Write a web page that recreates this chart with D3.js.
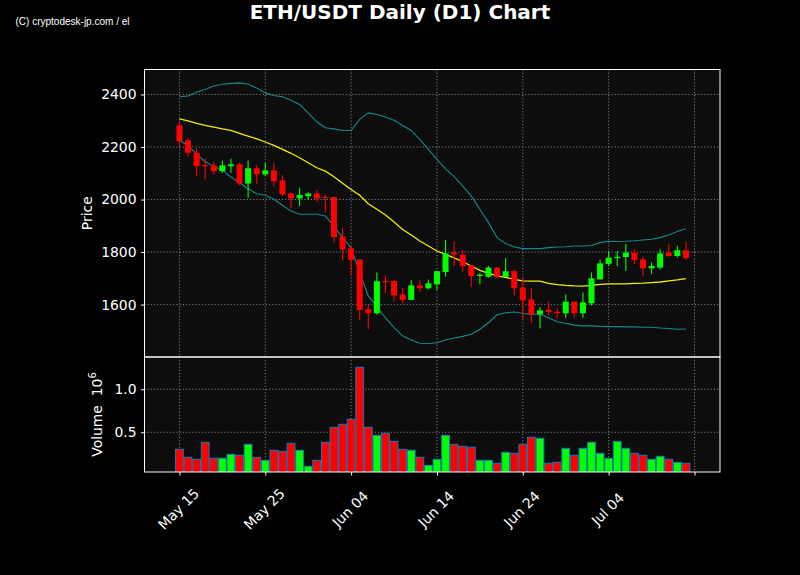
<!DOCTYPE html>
<html><head><meta charset="utf-8">
<script src="https://cdn.jsdelivr.net/npm/d3@7"></script>
<style>body{margin:0;background:#000;overflow:hidden}</style>
</head><body>
<svg id="c" width="800" height="575"></svg>
<script>
// ---------- DATA ----------
const startDate = [2023, 4, 15]; // May 15
const open  = [2282,2225,2178,2131,2130,2108,2127,2134,2061,2119,2096,2111,2073,2023,2004,2013,2023,2010,2009,1859,1814,1772,1582,1567,1690,1689,1639,1618,1673,1662,1677,1724,1798,1790,1750,1709,1706,1741,1706,1727,1665,1620,1563,1580,1573,1567,1611,1567,1605,1696,1755,1777,1781,1798,1772,1738,1741,1798,1785,1807];
const high  = [2298,2233,2195,2155,2144,2149,2155,2140,2149,2131,2140,2138,2092,2028,2045,2028,2036,2017,2010,1893,1823,1772,1601,1722,1713,1696,1665,1694,1692,1696,1727,1846,1840,1808,1750,1719,1747,1741,1776,1734,1700,1661,1591,1611,1587,1638,1611,1646,1722,1771,1804,1804,1832,1813,1782,1760,1811,1829,1824,1840];
const low   = [2203,2163,2089,2077,2094,2102,2102,2055,2007,2060,2089,2051,2013,1965,1975,2000,1992,1952,1836,1766,1713,1542,1506,1561,1643,1611,1605,1618,1649,1658,1656,1706,1747,1725,1668,1677,1703,1699,1706,1635,1547,1531,1509,1559,1548,1550,1550,1550,1597,1696,1747,1747,1728,1753,1709,1717,1734,1782,1779,1770];
const close = [2222,2178,2127,2127,2108,2130,2134,2061,2119,2096,2111,2070,2020,2004,2017,2023,2004,2006,1857,1810,1770,1580,1567,1689,1686,1635,1618,1673,1662,1681,1727,1795,1790,1747,1709,1714,1741,1706,1727,1662,1616,1563,1578,1572,1567,1611,1567,1608,1700,1757,1779,1782,1798,1770,1738,1747,1795,1785,1807,1777];
const volume = [302000,209000,186000,384000,198000,198000,244000,233000,360000,209000,174000,291000,279000,372000,291000,105000,174000,384000,558000,593000,651000,1256000,558000,465000,488000,395000,302000,291000,209000,116000,186000,465000,360000,337000,326000,174000,174000,140000,267000,256000,360000,442000,430000,140000,151000,314000,233000,314000,384000,256000,198000,395000,314000,256000,233000,186000,221000,186000,151000,140000];
const sma   = [2307,2299,2290,2282,2276,2269,2263,2252,2241,2231,2219,2206,2191,2176,2159,2140,2121,2108,2087,2062,2038,2016,1984,1963,1941,1914,1886,1865,1842,1823,1804,1791,1778,1763,1747,1730,1719,1709,1704,1696,1690,1689,1689,1681,1676,1673,1671,1670,1673,1677,1679,1679,1679,1681,1682,1684,1686,1690,1694,1699];
const upper = [2391,2394,2409,2419,2432,2439,2442,2444,2439,2425,2406,2396,2391,2378,2362,2330,2296,2273,2269,2263,2263,2305,2330,2324,2314,2302,2282,2263,2229,2191,2153,2117,2087,2051,2013,1963,1912,1855,1833,1819,1813,1813,1813,1817,1819,1820,1823,1823,1825,1836,1841,1840,1841,1843,1846,1849,1855,1865,1878,1889];
const lower = [2225,2206,2172,2144,2127,2112,2086,2064,2041,2022,2016,2001,1978,1956,1944,1944,1944,1937,1899,1855,1815,1722,1633,1592,1550,1512,1481,1465,1453,1452,1455,1465,1473,1479,1487,1506,1531,1561,1569,1572,1566,1563,1563,1550,1535,1529,1522,1519,1519,1517,1516,1516,1515,1515,1514,1514,1511,1509,1506,1507];
const xTickLabels = ["May 15","May 25","Jun 04","Jun 14","Jun 24","Jul 04",""];
const priceTicks = [1600,1800,2000,2200,2400];
const volTicks = [0.5,1.0];
const titleText = "ETH/USDT Daily (D1) Chart";
const watermark = "(C) cryptodesk-jp.com / el";

// ---------- LAYOUT ----------
const L = 144.5, R = 720, T = 69.5, M = 357, B = 472;
const DAY = 864e5;
const day0 = new Date(Date.UTC(startDate[0], startDate[1], startDate[2]));
const dates = open.map((_, i) => d3.utcDay.offset(day0, i));
const x = d3.scaleUtc()
  .domain([new Date(day0.getTime() - 4.07 * DAY), new Date(day0.getTime() + 62.97 * DAY)])
  .range([L, R]);
const yP = d3.scaleLinear().domain([1400.5, 2495]).range([M, T]);
const yV = d3.scaleLinear().domain([0.0384, 1.375]).range([B, M]);
const dayPx = x(d3.utcDay.offset(day0, 1)) - x(day0);
const tickDates = d3.utcDay.range(day0, d3.utcDay.offset(day0, 61), 10);

const svg = d3.select("#c");
const FONT = "DejaVu Sans, sans-serif";
svg.append("rect").attr("width", 800).attr("height", 575).attr("fill", "#000");

// panels
svg.append("rect").attr("x", L).attr("y", T).attr("width", R - L).attr("height", M - T).attr("fill", "#0d0d0d");
svg.append("rect").attr("x", L).attr("y", M).attr("width", R - L).attr("height", B - M).attr("fill", "#0d0d0d");

// grid
const grid = svg.append("g").attr("stroke", "#a0a0a0").attr("stroke-width", 0.9).attr("stroke-dasharray", "1,2.2");
tickDates.forEach(d => {
  grid.append("line").attr("x1", x(d)).attr("x2", x(d)).attr("y1", T).attr("y2", M);
  grid.append("line").attr("x1", x(d)).attr("x2", x(d)).attr("y1", M).attr("y2", B);
});
priceTicks.forEach(v => grid.append("line").attr("x1", L).attr("x2", R).attr("y1", yP(v)).attr("y2", yP(v)));
volTicks.forEach(v => grid.append("line").attr("x1", L).attr("x2", R).attr("y1", yV(v)).attr("y2", yV(v)));

// clip
svg.append("clipPath").attr("id", "cp").append("rect").attr("x", L).attr("y", T).attr("width", R - L).attr("height", M - T);
svg.append("clipPath").attr("id", "cv").append("rect").attr("x", L).attr("y", M).attr("width", R - L).attr("height", B - M);

// bollinger + sma
const mk = arr => d3.line().x((d, i) => x(dates[i])).y(d => yP(d))(arr);
const gl = svg.append("g").attr("clip-path", "url(#cp)").attr("fill", "none");
gl.append("path").attr("d", mk(upper)).attr("stroke", "#138a8a").attr("stroke-width", 1.1);
gl.append("path").attr("d", mk(lower)).attr("stroke", "#138a8a").attr("stroke-width", 1.1);
gl.append("path").attr("d", mk(sma)).attr("stroke", "#f0f000").attr("stroke-width", 1.3);

// candles
const cg = svg.append("g").attr("clip-path", "url(#cp)");
const bw = dayPx * 0.7;
dates.forEach((d, i) => {
  const up = close[i] >= open[i];
  const col = up ? "#00ff00" : "#ff0000";
  const cx = x(d);
  cg.append("line").attr("x1", cx).attr("x2", cx).attr("y1", yP(high[i])).attr("y2", yP(low[i]))
    .attr("stroke", col).attr("stroke-width", 1.1);
  const y1 = yP(Math.max(open[i], close[i])), y2 = yP(Math.min(open[i], close[i]));
  cg.append("rect").attr("x", cx - bw / 2).attr("y", y1).attr("width", bw).attr("height", Math.max(1.2, y2 - y1))
    .attr("fill", col);
});

// volume
const vg = svg.append("g").attr("clip-path", "url(#cv)");
dates.forEach((d, i) => {
  const up = close[i] >= open[i];
  const cx = x(d);
  const vy = yV(volume[i] / 1e6);
  vg.append("rect").attr("x", cx - dayPx / 2 + 0.4).attr("y", vy).attr("width", dayPx - 0.8).attr("height", B - vy + 2)
    .attr("fill", up ? "#00ff00" : "#ff0000").attr("stroke", "#1f77b4").attr("stroke-width", 1);
});

// frames
svg.append("rect").attr("x", L).attr("y", T).attr("width", R - L).attr("height", M - T).attr("fill", "none").attr("stroke", "#fff").attr("stroke-width", 1);
svg.append("rect").attr("x", L).attr("y", M).attr("width", R - L).attr("height", B - M).attr("fill", "none").attr("stroke", "#fff").attr("stroke-width", 1);

// axes
function styleAxis(g) {
  g.select(".domain").remove();
  g.selectAll(".tick line").attr("stroke", "#fff").attr("stroke-width", 1);
  g.selectAll(".tick text").attr("fill", "#fff").style("font-family", FONT).style("font-size", "13.9px");
}
svg.append("g").attr("transform", `translate(${L},0)`)
  .call(d3.axisLeft(yP).tickValues(priceTicks).tickFormat(d3.format("d")).tickSize(3.5).tickPadding(4.5))
  .call(styleAxis);
svg.append("g").attr("transform", `translate(${L},0)`)
  .call(d3.axisLeft(yV).tickValues(volTicks).tickFormat(d3.format(".1f")).tickSize(3.5).tickPadding(4.5))
  .call(styleAxis);
const xa = svg.append("g").attr("transform", `translate(0,${B})`)
  .call(d3.axisBottom(x).tickValues(tickDates).tickFormat((d, i) => xTickLabels[i]).tickSize(3.5))
  .call(styleAxis);
xa.selectAll(".tick text")
  .attr("y", 0).attr("dy", null)
  .attr("text-anchor", "middle").attr("dominant-baseline", "central")
  .attr("transform", "translate(-1.5,37) rotate(-45)");

// axis labels
svg.append("text").attr("transform", `translate(92,${(T + M) / 2}) rotate(-90)`)
  .attr("text-anchor", "middle").attr("fill", "#fff").style("font-family", FONT).style("font-size", "13.9px")
  .text("Price");
const vl = svg.append("text").attr("transform", `translate(102,${(M + B) / 2}) rotate(-90)`)
  .attr("text-anchor", "middle").attr("fill", "#fff").style("font-family", FONT).style("font-size", "13.9px")
  .style("white-space", "pre");
vl.append("tspan").text("Volume\u00a0\u00a010");
vl.append("tspan").attr("dy", -6).style("font-size", "10px").text("6");

// title
svg.append("text").attr("x", 400).attr("y", 18.8).attr("text-anchor", "middle").attr("fill", "#fff")
  .style("font-family", FONT).style("font-weight", "bold").style("font-size", "20px").text(titleText);

// watermark
svg.append("text").attr("x", 15.5).attr("y", 25).attr("fill", "#fff")
  .attr("textLength", 114).attr("lengthAdjust", "spacingAndGlyphs")
  .style("font-family", "Liberation Sans, Arial, sans-serif").style("font-size", "10.5px").text(watermark);
</script>
</body></html>
